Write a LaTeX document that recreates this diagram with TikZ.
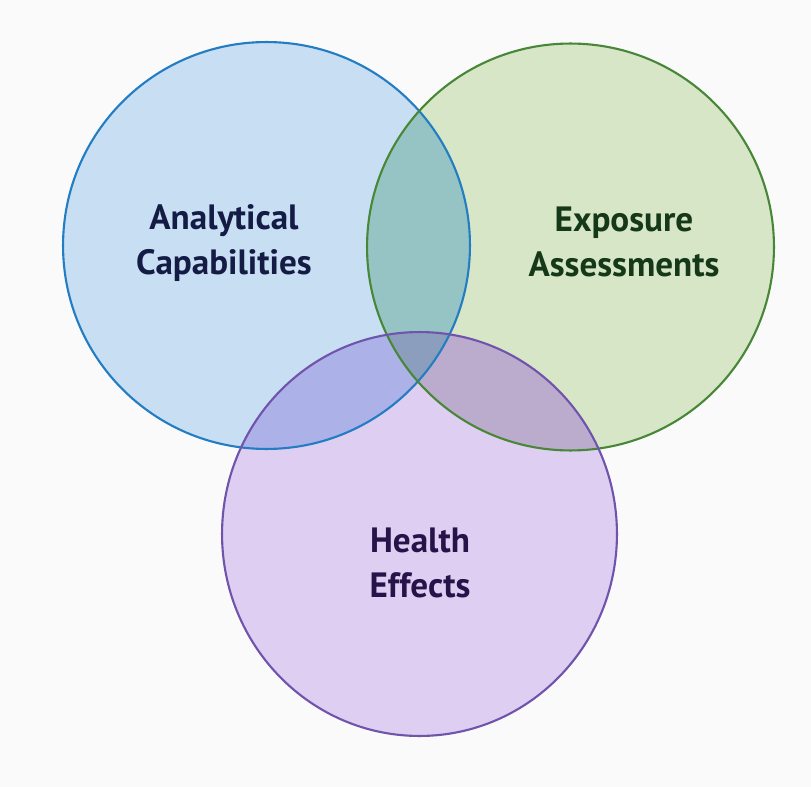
\documentclass[tikz,border=0pt]{standalone}
\usepackage{fontspec}
\setmainfont{PT Sans}
\usetikzlibrary{shapes.geometric}
\definecolor{capfill}{RGB}{200,222,243}
\definecolor{capline}{RGB}{35,125,195}
\definecolor{capfont}{RGB}{20,28,70}
\definecolor{expfill}{RGB}{214,230,198}
\definecolor{expline}{RGB}{72,135,55}
\definecolor{expfont}{RGB}{20,56,24}
\definecolor{hlthfill}{RGB}{222,206,241}
\definecolor{hlthline}{RGB}{112,84,172}
\definecolor{hlthfont}{RGB}{40,18,74}
\definecolor{capexp}{RGB}{150,196,196}
\definecolor{caphlth}{RGB}{172,178,232}
\definecolor{exphlth}{RGB}{187,172,205}
\definecolor{allthree}{RGB}{140,158,190}
\tikzstyle{circ} = [circle, minimum size=8.14cm]
\tikzstyle{oval} = [ellipse, minimum width=7.9cm, minimum height=8.08cm]
\tikzstyle{label} = [align=center, font=\fontsize{20}{26}\selectfont\bfseries]
\tikzstyle{rim} = [line width=1.2pt]

\begin{document}
\begin{tikzpicture}[x=0.02cm, y=-0.02cm]
	\useasboundingbox[fill=white!98!black] (0,0) rectangle (811,787);
	% circles
	\node (cap) [circ, fill=capfill] at (266.5,245.5) {};
	\node (exp) [circ, fill=expfill] at (570.5,247) {};
	\node (hlth) [oval, fill=hlthfill] at (419.5,534) {};
	% overlaps
	\begin{scope}
		\clip (cap.center) circle [radius=4.07cm];
		\fill [capexp] (exp.center) circle [radius=4.07cm];
		\fill [caphlth] (hlth.center) ellipse [x radius=3.95cm, y radius=4.04cm];
		\clip (exp.center) circle [radius=4.07cm];
		\fill [allthree] (hlth.center) ellipse [x radius=3.95cm, y radius=4.04cm];
	\end{scope}
	\begin{scope}
		\clip (exp.center) circle [radius=4.07cm];
		\clip (hlth.center) ellipse [x radius=3.95cm, y radius=4.04cm];
		\fill [exphlth] (exp.center) circle [radius=4.07cm];
		\clip (cap.center) circle [radius=4.07cm];
		\fill [allthree] (exp.center) circle [radius=4.07cm];
	\end{scope}
	% outlines
	\draw [rim, capline] (cap.center) circle [radius=4.07cm];
	\draw [rim, expline] (exp.center) circle [radius=4.07cm];
	\draw [rim, hlthline] (hlth.center) ellipse [x radius=3.95cm, y radius=4.04cm];
	% labels
	\node (captext) [label, text=capfont] at (224,243) {Analytical\\Capabilities};
	\node (exptext) [label, text=expfont] at (624,242) {Exposure\\Assessments};
	\node (hlthtext) [label, text=hlthfont] at (420,563) {Health\\Effects};
\end{tikzpicture}
\end{document}
